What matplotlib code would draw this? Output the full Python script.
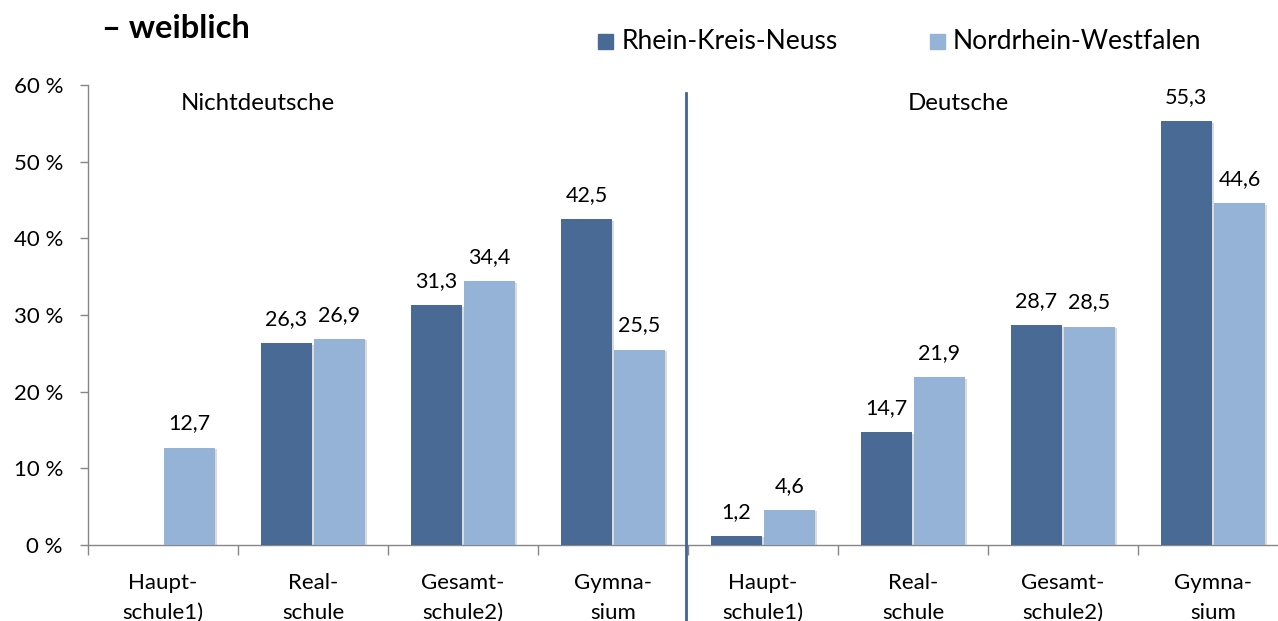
import matplotlib
matplotlib.use("Agg")
import matplotlib.pyplot as plt
import matplotlib.patheffects as pe
from matplotlib.patches import Rectangle
from matplotlib.lines import Line2D
import numpy as np

plt.rcParams['font.family'] = ['Lato', 'DejaVu Sans']

categories = ["Haupt-\nschule1)", "Real-\nschule", "Gesamt-\nschule2)", "Gymna-\nsium",
              "Haupt-\nschule1)", "Real-\nschule", "Gesamt-\nschule2)", "Gymna-\nsium"]
rkn = [None, 26.3, 31.3, 42.5, 1.2, 14.7, 28.7, 55.3]
nrw = [12.7, 26.9, 34.4, 25.5, 4.6, 21.9, 28.5, 44.6]
series_names = ["Rhein-Kreis-Neuss", "Nordrhein-Westfalen"]
group_names = ["Nichtdeutsche", "Deutsche"]
yticks = [0, 10, 20, 30, 40, 50, 60]

dark = "#4A6A96"
light = "#95B3D7"
gray = "#868686"

W, H = 1278, 621
fig = plt.figure(figsize=(W / 100, H / 100), dpi=100)
ax = fig.add_axes([88 / W, 1 - 545 / H, 1200 / W, (545 - 85) / H])

x = np.arange(len(categories))
bw = 0.34
off = 0.177
shadow = [pe.SimplePatchShadow(offset=(1.2, -1.2), shadow_rgbFace="#999999", alpha=0.35), pe.Normal()]

def fmt(v):
    return f"{v:.1f}".replace(".", ",")

for i in range(len(categories)):
    if rkn[i] is not None:
        b = ax.bar(x[i] - off, rkn[i], bw, color=dark, zorder=3)
        for p in b:
            p.set_path_effects(shadow)
        ax.annotate(fmt(rkn[i]), (x[i] - off, rkn[i]),
                    xytext=(0, 13), textcoords="offset points", ha="center", va="baseline",
                    fontsize=15.5, color="black")
    b = ax.bar(x[i] + off, nrw[i], bw, color=light, zorder=3)
    for p in b:
        p.set_path_effects(shadow)
    ax.annotate(fmt(nrw[i]), (x[i] + off, nrw[i]),
                xytext=(0, 13), textcoords="offset points", ha="center", va="baseline",
                fontsize=15.5, color="black")

ax.set_xlim(-0.5, len(categories) - 0.5)
ax.set_ylim(0, 60)
ax.set_yticks(yticks)
ax.set_yticklabels([f"{t} %" for t in yticks], fontsize=16)
ax.set_xticks(x)
ax.set_xticklabels(categories, fontsize=16, linespacing=1.62)
ax.set_xticks(np.arange(len(categories) + 1) - 0.5, minor=True)
ax.tick_params(axis="x", which="major", length=0, pad=20)
ax.tick_params(axis="x", which="minor", length=7, color=gray, width=1)
ax.tick_params(axis="y", length=6, color=gray, width=1, pad=12)

for s in ["top", "right"]:
    ax.spines[s].set_visible(False)
ax.spines["left"].set_color(gray)
ax.spines["bottom"].set_color(gray)
ax.spines["left"].set_linewidth(1)
ax.spines["bottom"].set_linewidth(1)

# divider between groups
ax.add_line(Line2D([3.5 - 0.01, 3.5 - 0.01], [-12, 59.0], color="#3F6497", linewidth=2,
                   clip_on=False, zorder=5))

ax.text(0.63, 57.6, group_names[0], ha="center", va="center", fontsize=17.3)
ax.text(5.3, 57.6, group_names[1], ha="center", va="center", fontsize=17.3)

# title (partial)
fig.text(102 / W, 1 - 38 / H, "\u2013 weiblich", ha="left", va="baseline", fontsize=23.5,
         fontweight="bold")

# legend
for (sx, tx, col, name) in [(598, 622, dark, series_names[0]), (930, 953, light, series_names[1])]:
    fig.patches.append(Rectangle((sx / W, 1 - 49 / H), 15 / W, 15 / H, transform=fig.transFigure,
                                 color=col))
    fig.text(tx / W, 1 - 41.5 / H, name, ha="left", va="center", fontsize=19)

fig.savefig("out.png", dpi=100)
